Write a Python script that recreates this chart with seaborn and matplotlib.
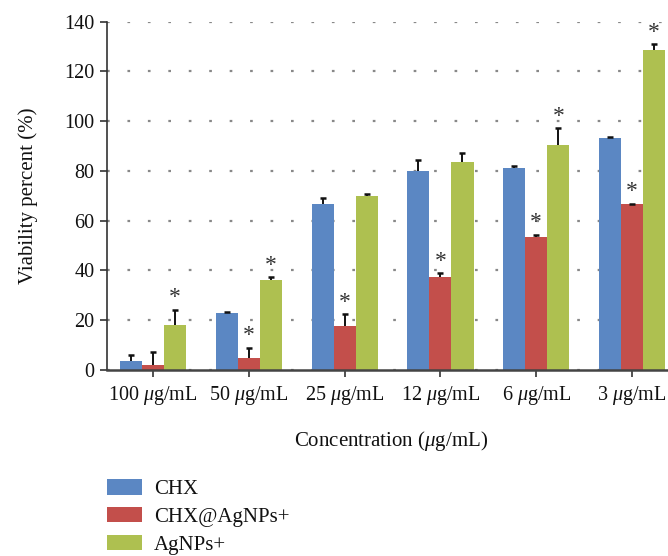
import matplotlib
matplotlib.use("Agg")
import matplotlib.pyplot as plt
from matplotlib.patches import Patch
import numpy as np
import pandas as pd
import seaborn as sns

categories = ["100 $\\mu$g/mL", "50 $\\mu$g/mL", "25 $\\mu$g/mL",
              "12 $\\mu$g/mL", "6 $\\mu$g/mL", "3 $\\mu$g/mL"]
groups = ["CHX", "CHX@AgNPs+", "AgNPs+"]
chx = [3.7, 23.1, 66.6, 79.9, 81.1, 93.2]
chx_ag = [2.1, 5.0, 17.8, 37.2, 53.3, 66.6]
agnps = [18.2, 36.0, 69.8, 83.5, 90.3, 128.6]
chx_err = [2.2, 0.4, 2.5, 4.5, 0.7, 0.3]
chx_ag_err = [5.0, 4.0, 4.7, 1.6, 1.1, 0.2]
agnps_err = [6.0, 1.2, 0.9, 3.9, 6.8, 2.4]
chx_star = [False, False, False, False, False, False]
chx_ag_star = [False, True, True, True, True, True]
agnps_star = [True, True, False, False, True, True]
colors = ["#5B87C3", "#C34F4B", "#AEC050"]

sns.set_theme(style="white")
plt.rcParams["font.family"] = ["Liberation Serif", "DejaVu Serif"]
plt.rcParams["mathtext.fontset"] = "custom"
plt.rcParams["mathtext.rm"] = "Liberation Serif"
plt.rcParams["mathtext.it"] = "Liberation Serif:italic"

df = pd.DataFrame({
    "conc": categories * 3,
    "group": [g for g in groups for _ in categories],
    "value": chx + chx_ag + agnps,
})

W, H = 668, 556
fig = plt.figure(figsize=(W / 100, H / 100), dpi=100)
ax_left, ax_right, ax_bottom, ax_top = 107, 680, 370, 21.7
ax = fig.add_axes([ax_left / W, 1 - ax_bottom / H, (ax_right - ax_left) / W,
                   (ax_bottom - ax_top) / H])

sns.barplot(data=df, x="conc", y="value", hue="group", order=categories,
            hue_order=groups, palette=colors, saturation=1, width=0.69,
            errorbar=None, legend=False, ax=ax, zorder=2, linewidth=0,
            edgecolor="none")

errs = [chx_err, chx_ag_err, agnps_err]
stars = [chx_star, chx_ag_star, agnps_star]
for cont, err, st in zip(ax.containers, errs, stars):
    xs = np.array([b.get_x() + b.get_width() / 2 for b in cont])
    hs = np.array([b.get_height() for b in cont])
    e = np.array(err)
    ax.vlines(xs, hs, hs + e, colors="#111111", linewidth=1.4, zorder=3)
    ax.plot(xs, hs + e, linestyle="none", marker="_", markersize=4.5,
            markeredgewidth=1.8, color="#111111", zorder=3)
    for x, h, ee, s in zip(xs, hs, e, st):
        if s:
            ax.annotate("*", (x, h + ee), xytext=(0, 1), textcoords="offset points",
                        ha="center", va="bottom", fontsize=17, color="#333333")

ax.set_xlim(-0.48, 5.5)
ax.set_ylim(0, 140)
ax.set_yticks(np.arange(0, 141, 20))
ax.yaxis.grid(True, linestyle=(0, (1.2, 8)), linewidth=1.6, color="#888888", zorder=0)
ax.set_axisbelow(True)
for s in ["top", "right"]:
    ax.spines[s].set_visible(False)
ax.spines["left"].set_color("#333333")
ax.spines["left"].set_linewidth(1.2)
ax.spines["bottom"].set_color("#444444")
ax.spines["bottom"].set_linewidth(1.8)
ax.tick_params(axis="y", left=True, length=5, width=1.2, color="#333333",
               labelsize=14.5, pad=4, labelcolor="#111111")
ax.tick_params(axis="x", bottom=True, length=5, width=1.2, color="#333333",
               labelsize=14.5, pad=5, labelcolor="#111111")
ax.set_xlabel("")
ax.set_ylabel("Viability percent (%)", fontsize=15, labelpad=19, color="#111111")

fig.text(391 / W, 1 - 441 / H, "Concentration ($\\mu$g/mL)", ha="center", va="center",
         fontsize=15, color="#111111")

handles = [Patch(facecolor=c, edgecolor="none") for c in colors]
fig.legend(handles, groups, loc="upper left", bbox_to_anchor=(107 / W, 1 - 479 / H),
           frameon=False, fontsize=15, handlelength=1.68, handleheight=0.77,
           handletextpad=0.58, labelspacing=0.38, borderpad=0, borderaxespad=0,
           labelcolor="#111111")

fig.savefig("out.png", dpi=100)
